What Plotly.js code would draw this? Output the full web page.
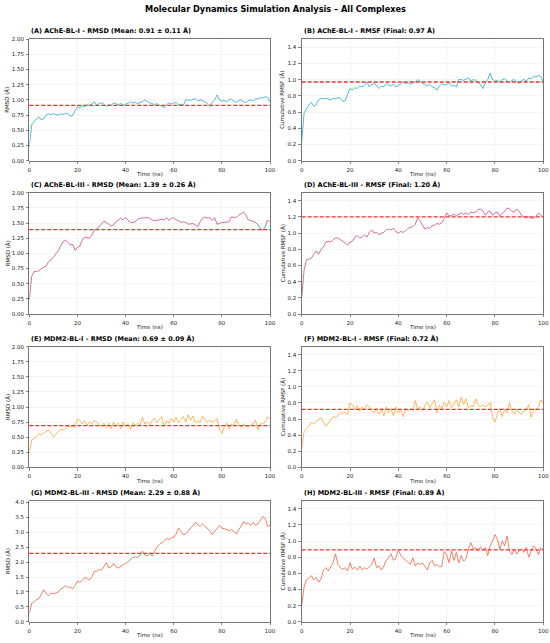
<!DOCTYPE html>
<html><head><meta charset="utf-8">
<script src="https://cdn.plot.ly/plotly-3.0.1.min.js"></script>
<style>html,body{margin:0;padding:0;background:#fff}#chart{width:550px;height:643px}</style>
</head><body><div id="chart"></div>
<script>
const timeNs = [0,1,2,3,4,5,6,7,8,9,10,11,12,13,14,15,16,17,18,19,20,21,22,23,24,25,26,27,28,29,30,31,32,33,34,35,36,37,38,39,40,41,42,43,44,45,46,47,48,49,50,51,52,53,54,55,56,57,58,59,60,61,62,63,64,65,66,67,68,69,70,71,72,73,74,75,76,77,78,79,80,81,82,83,84,85,86,87,88,89,90,91,92,93,94,95,96,97,98,99,100];

// AChE-BL-I (RMSD and cumulative RMSF panels show the same trace)
const acheBL1 = [0.23,0.59,0.64,0.69,0.72,0.67,0.69,0.75,0.77,0.76,0.77,0.76,0.75,0.77,0.76,0.78,0.77,0.73,0.74,0.82,0.89,0.87,0.90,0.89,0.92,0.91,0.93,0.97,0.91,0.94,0.95,0.93,0.89,0.92,0.91,0.95,0.93,0.92,0.94,0.91,0.93,0.94,0.97,0.95,0.96,0.94,0.96,0.97,1.00,0.97,0.95,0.94,0.92,0.94,0.91,0.90,0.87,0.92,0.95,0.93,0.94,0.96,0.92,0.93,0.91,1.00,1.00,0.99,1.01,1.02,0.98,1.00,0.99,0.96,0.94,0.89,0.96,1.00,1.08,1.00,0.98,0.99,0.97,1.00,1.01,0.98,0.96,0.99,1.00,0.97,0.95,0.99,1.00,0.98,1.02,1.01,1.04,1.03,1.05,1.04,0.97];
// AChE-BL-III RMSD
const acheBL3Rmsd = [0.23,0.62,0.70,0.70,0.71,0.75,0.77,0.79,0.86,0.90,0.93,0.99,1.04,1.12,1.19,1.22,1.18,1.14,1.15,1.05,1.10,1.12,1.22,1.27,1.26,1.25,1.30,1.38,1.40,1.44,1.48,1.53,1.51,1.48,1.45,1.47,1.52,1.55,1.58,1.55,1.59,1.55,1.51,1.51,1.52,1.56,1.58,1.58,1.59,1.59,1.58,1.55,1.54,1.55,1.55,1.56,1.55,1.59,1.54,1.58,1.59,1.55,1.54,1.51,1.52,1.51,1.48,1.48,1.49,1.47,1.44,1.52,1.58,1.60,1.58,1.59,1.54,1.59,1.48,1.49,1.51,1.51,1.52,1.52,1.60,1.60,1.59,1.63,1.65,1.68,1.63,1.55,1.54,1.52,1.51,1.47,1.41,1.38,1.44,1.55,1.51];
// AChE-BL-III cumulative RMSF
const acheBL3Rmsf = [0.20,0.55,0.67,0.68,0.69,0.74,0.78,0.74,0.80,0.83,0.89,0.90,0.89,0.92,0.94,0.94,0.92,0.91,0.88,0.85,0.89,0.90,0.95,0.97,0.94,0.95,0.98,0.95,1.01,1.04,1.00,1.01,0.98,1.00,1.01,1.04,1.05,1.04,1.06,1.02,1.00,1.02,1.01,1.03,1.06,1.07,1.08,1.11,1.19,1.15,1.09,1.05,1.07,1.06,1.09,1.10,1.12,1.11,1.13,1.18,1.25,1.21,1.22,1.23,1.22,1.23,1.25,1.23,1.25,1.23,1.26,1.25,1.26,1.29,1.30,1.27,1.22,1.26,1.27,1.22,1.25,1.26,1.21,1.25,1.27,1.31,1.30,1.27,1.26,1.30,1.27,1.22,1.20,1.19,1.20,1.19,1.18,1.21,1.25,1.22,1.20];
// MDM2-BL-I (RMSD and cumulative RMSF panels show the same trace)
const mdm2BL1 = [0.23,0.45,0.48,0.51,0.56,0.54,0.57,0.59,0.62,0.56,0.51,0.55,0.59,0.63,0.62,0.64,0.68,0.67,0.68,0.66,0.80,0.78,0.72,0.77,0.70,0.75,0.72,0.78,0.75,0.72,0.68,0.73,0.66,0.73,0.64,0.75,0.68,0.73,0.64,0.75,0.68,0.72,0.63,0.73,0.70,0.73,0.70,0.83,0.72,0.75,0.70,0.77,0.81,0.74,0.80,0.84,0.68,0.77,0.73,0.81,0.75,0.83,0.74,0.80,0.84,0.75,0.87,0.78,0.85,0.74,0.77,0.75,0.85,0.78,0.75,0.78,0.75,0.77,0.81,0.62,0.56,0.67,0.73,0.63,0.72,0.68,0.80,0.70,0.66,0.72,0.68,0.66,0.70,0.72,0.78,0.62,0.72,0.72,0.75,0.84,0.80];
// MDM2-BL-III RMSD
const mdm2BL3Rmsd = [0.28,0.61,0.66,0.74,0.77,0.94,1.07,0.94,0.88,0.96,0.94,0.96,0.99,1.10,1.13,1.21,1.16,1.16,1.10,1.21,1.36,1.32,1.38,1.49,1.43,1.40,1.51,1.69,1.69,1.76,1.73,1.84,1.98,1.80,1.84,1.95,1.84,1.80,1.87,1.91,1.95,2.02,2.09,2.15,2.17,2.15,2.24,2.37,2.24,2.20,2.31,2.20,2.35,2.50,2.59,2.64,2.70,2.79,2.76,2.81,2.83,2.94,3.14,3.03,2.92,2.94,3.03,3.14,3.23,3.34,3.25,3.20,3.28,3.20,3.14,3.05,2.92,3.03,3.14,3.23,3.14,3.12,3.09,3.05,3.09,3.03,2.94,3.09,3.20,3.36,3.28,3.31,3.23,3.34,3.23,3.28,3.42,3.53,3.47,3.20,3.23];
// MDM2-BL-III cumulative RMSF
const mdm2BL3Rmsf = [0.20,0.43,0.52,0.55,0.57,0.52,0.55,0.49,0.53,0.64,0.67,0.63,0.69,0.73,0.84,0.71,0.67,0.65,0.67,0.63,0.73,0.65,0.68,0.64,0.69,0.64,0.67,0.65,0.68,0.71,0.79,0.67,0.69,0.64,0.69,0.76,0.80,0.84,0.76,0.79,0.89,0.82,0.79,0.76,0.73,0.71,0.79,0.69,0.73,0.71,0.73,0.69,0.64,0.73,0.76,0.69,0.71,0.68,0.69,0.87,0.83,0.73,0.88,0.76,0.86,0.73,0.82,0.75,0.78,0.90,0.98,0.90,0.92,0.88,0.93,0.89,0.92,0.82,0.94,1.00,1.08,1.02,0.90,1.00,0.94,1.06,0.88,0.83,0.90,0.84,0.88,0.90,0.86,0.92,0.80,0.88,0.94,0.90,0.83,0.92,0.89];

const panelTitles = [
  '(A) AChE-BL-I - RMSD (Mean: 0.91 ± 0.11 Å)',
  '(B) AChE-BL-I - RMSF (Final: 0.97 Å)',
  '(C) AChE-BL-III - RMSD (Mean: 1.39 ± 0.26 Å)',
  '(D) AChE-BL-III - RMSF (Final: 1.20 Å)',
  '(E) MDM2-BL-I - RMSD (Mean: 0.69 ± 0.09 Å)',
  '(F) MDM2-BL-I - RMSF (Final: 0.72 Å)',
  '(G) MDM2-BL-III - RMSD (Mean: 2.29 ± 0.88 Å)',
  '(H) MDM2-BL-III - RMSF (Final: 0.89 Å)'
];
const panelSeries = [acheBL1, acheBL1, acheBL3Rmsd, acheBL3Rmsf, mdm2BL1, mdm2BL1, mdm2BL3Rmsd, mdm2BL3Rmsf];
const referenceValues = [0.91, 0.97, 1.39, 1.20, 0.69, 0.72, 2.29, 0.89];
const yAxisTitles = ['RMSD (Å)','Cumulative RMSF (Å)','RMSD (Å)','Cumulative RMSF (Å)','RMSD (Å)','Cumulative RMSF (Å)','RMSD (Å)','Cumulative RMSF (Å)'];
const yMax = [2.0, 1.5, 2.0, 1.5, 2.0, 1.5, 4.06, 1.5];
const yTickStep = [0.25, 0.2, 0.25, 0.2, 0.25, 0.2, 0.5, 0.2];
const yTickFormat = ['.2f','.1f','.2f','.1f','.2f','.1f','.1f','.1f'];
const xTickValues = [0,20,40,60,80,100];
const mainTitle = 'Molecular Dynamics Simulation Analysis – All Complexes';

const colors = ['#1ba6cf','#1ba6cf','#c8407f','#c8407f','#ffa22e','#ffa22e','#f25a3a','#f25a3a'];

const W = 550, H = 643;
const colPx = [[29.3, 270], [301.7, 543.3]];
const rowPx = [[39, 160.7], [192.7, 314], [346.7, 467.3], [500.7, 621.7]];
const FONT = 'DejaVu Sans, Arial, sans-serif';

const data = [];
const layout = {
  width: W, height: H,
  margin: {l:0, r:0, t:0, b:0},
  paper_bgcolor: '#fff', plot_bgcolor: '#fff',
  showlegend: false,
  font: {family: FONT, color: '#222', size: 5.5},
  annotations: [], shapes: []
};

layout.annotations.push({
  text: '<b>' + mainTitle + '</b>', xref:'paper', yref:'paper',
  x: 0.5, y: 1 - 8.5/H, xanchor:'center', yanchor:'middle', showarrow:false,
  font:{family:FONT, size:8.2, color:'#000'}
});

for (let i = 0; i < 8; i++) {
  const r = Math.floor(i/2), c = i % 2;
  const n = i + 1;
  const xa = 'x' + (n === 1 ? '' : n), ya = 'y' + (n === 1 ? '' : n);
  const xk = 'xaxis' + (n === 1 ? '' : n), yk = 'yaxis' + (n === 1 ? '' : n);
  const xd = [colPx[c][0]/W, colPx[c][1]/W];
  const yd = [1 - rowPx[r][1]/H, 1 - rowPx[r][0]/H];
  data.push({
    x: timeNs, y: panelSeries[i], xaxis: xa, yaxis: ya, type:'scatter', mode:'lines',
    line:{color: colors[i], width: 0.9}, opacity: 0.85, hoverinfo:'skip'
  });
  const common = {
    showline:true, mirror:true, linecolor:'#555', linewidth:0.8,
    ticks:'outside', ticklen:2.5, tickwidth:0.6, tickcolor:'#333',
    showgrid:true, gridcolor:'#ebebeb', gridwidth:0.5, zeroline:false,
    tickfont:{family:FONT, size:5.5, color:'#222'}, fixedrange:true
  };
  layout[xk] = Object.assign({}, common, {
    domain: xd, anchor: ya, range:[0,100], tickmode:'array', tickvals: xTickValues,
    ticktext: xTickValues.map(String), ticklabelstandoff: 1
  });
  layout[yk] = Object.assign({}, common, {
    domain: yd, anchor: xa, range:[0, yMax[i]], tick0:0, dtick: yTickStep[i],
    tickformat: yTickFormat[i], ticklabelstandoff: 1
  });
  layout.shapes.push({
    type:'line', xref: xa + ' domain', yref: ya, x0:0, x1:1, layer:'above',
    y0: referenceValues[i], y1: referenceValues[i],
    line:{color:'#ff2a2a', width:1.3, dash:'4px,2px'}
  });
  layout.annotations.push({
    text:'<b>' + panelTitles[i] + '</b>', xref:'paper', yref:'paper',
    x: xd[0], y: yd[1] + 2/H, xanchor:'left', yanchor:'bottom', showarrow:false,
    font:{family:FONT, size:6.5, color:'#000'}
  });
  layout.annotations.push({
    text:'Time (ns)', xref:'paper', yref:'paper',
    x: (xd[0]+xd[1])/2, y: yd[0] - 13.5/H, xanchor:'center', yanchor:'middle', showarrow:false,
    font:{family:FONT, size:5.5, color:'#222'}
  });
  layout.annotations.push({
    text: yAxisTitles[i], xref:'paper', yref:'paper', textangle:-90,
    x: (c === 0 ? 7 : 282)/W, y:(yd[0]+yd[1])/2, xanchor:'center', yanchor:'middle', showarrow:false,
    font:{family:FONT, size:5.5, color:'#222'}
  });
}

Plotly.newPlot('chart', data, layout, {displayModeBar:false, staticPlot:true});
</script></body></html>
